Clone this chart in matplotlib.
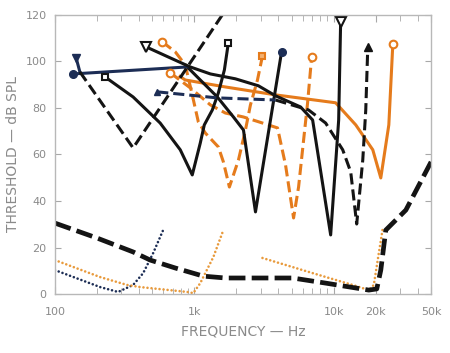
import numpy as np
import matplotlib
matplotlib.use('Agg')
import matplotlib.pyplot as plt
from matplotlib.ticker import FixedLocator, NullFormatter

plt.rcParams['lines.scale_dashes'] = False

# colours
BLK = '#141414'
NAVY = '#1c2d55'
ORG = '#e57b1c'
DOT_ORG = '#e89a3c'
GREY = '#8a8a8a'

# tuning curves (frequency Hz, threshold dB SPL)
navy_f = [135, 891, 1104, 1463, 1909, 2253, 2748, 4227]
navy_db = [94.6, 97.6, 92, 84.7, 76.1, 70.5, 35.3, 104]

dash1_f = [142, 151]
dash1_db = [101.5, 95.5]
dash1b_f = [151, 364, 1590]
dash1b_db = [95.5, 62.8, 120]

sq_f = [229, 364, 569, 793, 967, 1104, 1180, 1347, 1489, 1644, 1756]
sq_db = [93.3, 84.7, 73.5, 62, 51.2, 64.9, 72.7, 79.1, 86.5, 96.3, 108]

tri_f = [452, 672, 936, 1304, 1972, 2886, 3826, 5790, 7063, 9515, 10860, 11220]
tri_db = [106.2, 101.5, 97.6, 94.6, 92.5, 89.5, 85.2, 80.4, 74.8, 25.4, 74.8, 117]

nd_f = [542, 1463, 3826, 6607, 8756, 11610, 13250, 14630, 16170, 16990, 17570]
nd_db = [86.9, 84.3, 83.4, 79.1, 73.5, 62, 52.5, 30.1, 57.6, 79.1, 106.2]

os_f = [790, 861, 1671, 3826, 10330, 14400, 19080, 21780, 24870, 26570]
os_db = [93.5, 92, 89, 85.6, 82.2, 72.7, 62, 49.9, 72.7, 107.5]

odA_f = [589, 730, 861, 967, 1069, 1200, 1489, 1617, 1786, 2074, 2328, 2529, 2840, 3085]
odA_db = [108.4, 104.1, 98.5, 85.6, 74, 69.2, 63.2, 56.8, 46, 57.6, 70.5, 81.3, 92, 102.4]

odB_f = [672, 936, 1304, 1671, 2252, 3085, 3955, 4514, 5155, 5600, 6085, 6500, 6950]
odB_db = [95.1, 88.6, 81.3, 77.8, 76.1, 73.5, 71.4, 55.5, 32.7, 46, 66.2, 82.2, 101.9]

# threshold curves near the bottom
low_f = [100, 200, 364, 483, 730, 1161, 1671, 5070, 8760, 17860, 20380, 21780,
         23660, 32960, 50000]
low_db = [30.5, 24.1, 18.1, 14.6, 11.2, 7.7, 6.9, 6.9, 4.7, 1.7, 2.2, 10.3,
          27.5, 36.1, 56.8]

ndot_f = [100, 211, 284, 364, 430, 507, 598]
ndot_db = [10.3, 3, 0.9, 3.9, 9, 17.6, 27.5]

odot1_f = [100, 211, 330, 409, 891, 984, 1104, 1370, 1617]
odot1_db = [14.6, 7.3, 3.9, 3, 0.9, 0.4, 4.7, 15.9, 27.5]

odot2_f = [3085, 7063, 13700, 17860, 19400, 21080, 22530]
odot2_db = [15.5, 9, 3.9, 1.7, 3.9, 17.6, 28.4]

xticks = [100, 1000, 10000, 20000, 50000]
xlabels = ['100', '1k', '10k', '20k', '50k']
yticks = [0, 20, 40, 60, 80, 100, 120]

fig = plt.figure(figsize=(4.5, 3.53), dpi=100)
ax = fig.add_axes([0.122, 0.167, 0.836, 0.791])

lw = 2.2
dash = (0, (8, 3.6))
dot = (0, (0.01, 2.9))

# bottom curves
ax.plot(ndot_f, ndot_db, color=NAVY, lw=1.9, ls=dot, dash_capstyle='round')
ax.plot(odot1_f, odot1_db, color=DOT_ORG, lw=1.9, ls=dot, dash_capstyle='round')
ax.plot(odot2_f, odot2_db, color=DOT_ORG, lw=1.9, ls=dot, dash_capstyle='round')
ax.plot(low_f, low_db, color=BLK, lw=3.4, ls=(0, (12, 4.5)))

# orange curves
ax.plot(os_f, os_db, color=ORG, lw=lw)
ax.plot(odA_f, odA_db, color=ORG, lw=lw, ls=dash)
ax.plot(odB_f, odB_db, color=ORG, lw=lw, ls=dash)

# black / navy curves
ax.plot(navy_f[1:], navy_db[1:], color=BLK, lw=lw)
ax.plot(navy_f[:2], navy_db[:2], color=NAVY, lw=lw)
ax.plot(dash1_f, dash1_db, color=NAVY, lw=lw)
ax.plot(dash1b_f, dash1b_db, color=BLK, lw=lw, ls=dash)
ax.plot(sq_f, sq_db, color=BLK, lw=lw)
ax.plot(tri_f, tri_db, color=BLK, lw=lw)
ax.plot(nd_f[2:], nd_db[2:], color=BLK, lw=lw, ls=dash)
ax.plot(nd_f[:3], nd_db[:3], color=NAVY, lw=lw, ls=dash)

# markers
ax.plot([navy_f[0], navy_f[-1]], [navy_db[0], navy_db[-1]], 'o', color=NAVY, ms=5.5)
ax.plot(dash1_f[0], dash1_db[0], 'v', color=NAVY, ms=6)
ax.plot([sq_f[0], sq_f[-1]], [sq_db[0], sq_db[-1]], 's', mfc='white', mec=BLK, mew=1.5, ms=5)
ax.plot([tri_f[0], tri_f[-1]], [tri_db[0], tri_db[-1]], 'v', mfc='white', mec=BLK, mew=1.5, ms=7)
ax.plot(nd_f[0], nd_db[0], '^', color=NAVY, ms=5)
ax.plot(nd_f[-1], nd_db[-1], '^', color=BLK, ms=6)
ax.plot([odA_f[0], odB_f[0], odB_f[-1], os_f[-1]],
        [odA_db[0], odB_db[0], odB_db[-1], os_db[-1]],
        'o', mfc='white', mec=ORG, mew=1.5, ms=5.5)
ax.plot(odA_f[-1], odA_db[-1], 's', mfc='#f3b070', mec=ORG, mew=1.5, ms=5)

ax.set_xscale('log')
ax.set_xlim(100, 50000)
ax.set_ylim(0, 120)

ax.xaxis.set_major_locator(FixedLocator(xticks))
ax.set_xticklabels(xlabels)
minor = [m * 10 ** e for e in range(2, 5) for m in range(2, 10)]
ax.xaxis.set_minor_locator(FixedLocator([v for v in minor if v < 50000 and v not in xticks]))
ax.xaxis.set_minor_formatter(NullFormatter())
ax.set_yticks(yticks)

ax.tick_params(axis='both', which='both', direction='in', colors='#a8a8a8',
               labelcolor=GREY, labelsize=8, top=True, right=True)
ax.tick_params(axis='x', which='major', length=5, pad=9)
ax.tick_params(axis='x', which='minor', length=4)
ax.tick_params(axis='y', length=4, pad=6)
for s in ax.spines.values():
    s.set_color('#b8b8b8')
    s.set_linewidth(1)

ax.set_xlabel('FREQUENCY — Hz', color=GREY, fontsize=10, labelpad=6)
ax.set_ylabel('THRESHOLD — dB SPL', color=GREY, fontsize=10, labelpad=4)

fig.savefig('out.png', dpi=100)
